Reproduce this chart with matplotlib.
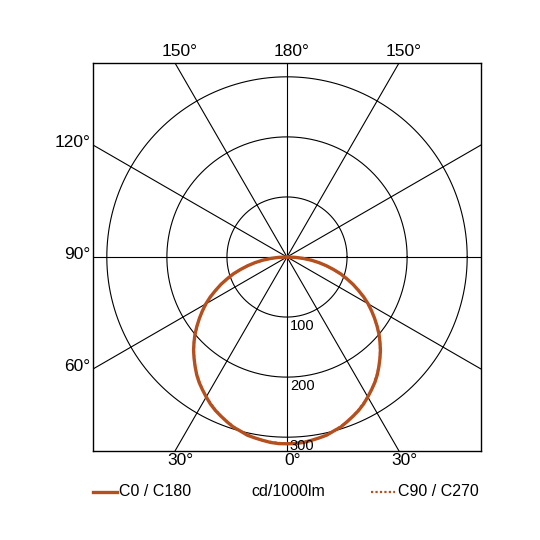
import numpy as np
import matplotlib.pyplot as plt

plt.rcParams['font.family'] = ['Liberation Sans', 'DejaVu Sans']

# luminous intensity (cd/1000lm) against gamma angle
gamma = [0, 2.5, 5, 7.5, 10, 12.5, 15, 17.5, 20, 22.5, 25, 27.5, 30, 32.5, 35, 37.5,
         40, 42.5, 45, 47.5, 50, 52.5, 55, 57.5, 60, 62.5, 65, 67.5, 70, 72.5, 75,
         77.5, 80, 82.5, 85, 87.5, 90]
c0_c180 = [311, 311, 310, 308, 306, 304, 300, 297, 292, 287, 282, 276, 269, 262, 255, 247,
           238, 229, 220, 210, 200, 189, 178, 167, 156, 144, 131, 119, 106, 94, 80,
           67, 54, 41, 27, 14, 0]
c90_c270 = [310, 310, 309, 308, 306, 303, 300, 296, 292, 287, 281, 275, 269, 262, 254, 246,
            238, 229, 219, 210, 199, 189, 178, 167, 155, 143, 131, 119, 106, 93, 80,
            67, 54, 40, 27, 13, 0]

rings = [100, 200, 300]
spokes = [0, 30, 60, 90, 120, 150, 180, 210, 240, 270, 300, 330]
left_labels = ['60°', '90°', '120°']
top_labels = ['150°', '180°', '150°']
bottom_labels = ['30°', '0°', '30°']

color = '#b5501e'
lim = 323

fig = plt.figure(figsize=(5.4, 5.4), dpi=100)
ax = fig.add_axes([93 / 540, 89 / 540, 388 / 540, 388 / 540])
ax.set_xlim(-lim, lim)
ax.set_ylim(-lim, lim)
ax.set_aspect('equal')
ax.set_xticks([])
ax.set_yticks([])
for s in ax.spines.values():
    s.set_linewidth(1.0)

# grid
t = np.linspace(0, 2 * np.pi, 400)
for r in rings:
    ax.plot(r * np.cos(t), r * np.sin(t), color='black', lw=0.8, zorder=1)
for a in spokes:
    rad = np.radians(a)
    ax.plot([0, 600 * np.sin(rad)], [0, -600 * np.cos(rad)], color='black', lw=0.8, zorder=1)

for r in rings:
    ax.annotate(str(r), (0, -r), xytext=(2, -1.5), textcoords='offset points',
                ha='left', va='top', fontsize=10.5, zorder=6)

# curves: gamma measured from nadir, C0 right / C180 left
g = np.radians(gamma)
i1 = np.array(c0_c180, dtype=float)
i2 = np.array(c90_c270, dtype=float)
ax.plot(np.concatenate([-(i1 * np.sin(g))[::-1], i1 * np.sin(g)]),
        np.concatenate([-(i1 * np.cos(g))[::-1], -i1 * np.cos(g)]),
        color=color, lw=2.4, zorder=3, solid_capstyle='round', solid_joinstyle='round')
ax.plot(np.concatenate([-(i2 * np.sin(g))[::-1], i2 * np.sin(g)]),
        np.concatenate([-(i2 * np.cos(g))[::-1], -i2 * np.cos(g)]),
        color=color, lw=1.6, ls=(0, (1, 1)), zorder=4)

# angle labels around the box
side = lim * np.tan(np.radians(30))
for lab, y in zip(left_labels, [-side, 0, side]):
    ax.annotate(lab, (-lim, y), xytext=(-2, 2), textcoords='offset points',
                ha='right', va='center', fontsize=12.5, annotation_clip=False)
for lab, x in zip(top_labels, [-side, 0, side]):
    ax.annotate(lab, (x, lim), xytext=(3, 3), textcoords='offset points',
                ha='center', va='bottom', fontsize=12.5, annotation_clip=False)
for lab, x in zip(bottom_labels, [-side, 0, side]):
    ax.annotate(lab, (x, -lim), xytext=(4, -1.5), textcoords='offset points',
                ha='center', va='top', fontsize=12.5, annotation_clip=False)

# legend row
ly = 1 - 492 / 540
fig.add_artist(plt.Line2D([93 / 540, 117 / 540], [ly, ly], color=color, lw=2.4))
fig.text(119 / 540, ly, 'C0 / C180', ha='left', va='center', fontsize=11.5)
fig.text(288 / 540, ly, 'cd/1000lm', ha='center', va='center', fontsize=11.5)
fig.add_artist(plt.Line2D([371 / 540, 395 / 540], [ly, ly], color=color, lw=1.6, ls=(0, (1, 1))))
fig.text(398 / 540, ly, 'C90 / C270', ha='left', va='center', fontsize=11.5)

fig.savefig('out.png', dpi=100)
